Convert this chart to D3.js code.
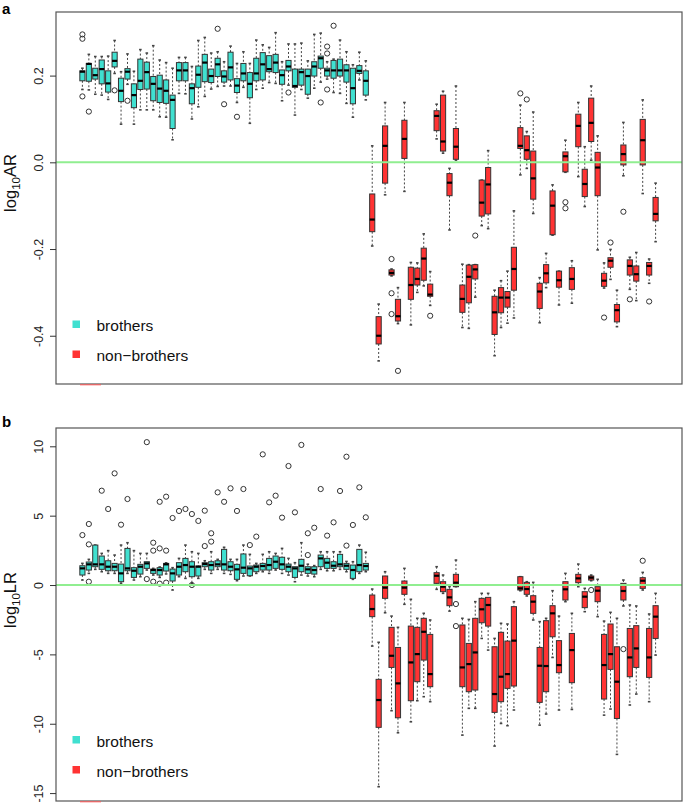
<!DOCTYPE html>
<html><head><meta charset="utf-8">
<script src="https://cdn.jsdelivr.net/npm/d3@7"></script>
<style>
body{margin:0;background:#fff;}
svg{display:block;font-family:"Liberation Sans",Arial,Helvetica,sans-serif;}
</style>
</head><body>
<svg id="chart" width="685" height="805"></svg>
<script>
// ---------- DATA ----------
const groups = ["brothers", "non\u2212brothers"];
const groupColors = ["#40E0D0", "#FF3333"];
const nBrothers = 45;
const nTotal = 90;

// Panel a: log10 AR (boxes 1..45 brothers, 46..90 non-brothers)
const arHigh = [0.217,0.249,0.244,0.244,0.245,0.281,0.209,0.250,0.210,0.260,0.252,0.269,0.236,0.230,0.217,0.242,0.242,0.221,0.281,0.288,0.252,0.255,0.232,0.268,0.228,0.255,0.228,0.282,0.271,0.265,0.299,0.232,0.273,0.273,0.275,0.234,0.295,0.298,0.232,0.238,0.282,0.255,0.225,0.254,0.234,
  0.038,-0.327,0.138,-0.246,-0.289,0.138,-0.231,-0.232,-0.165,-0.252,0.134,0.164,-0.014,0.176,-0.235,-0.236,-0.236,-0.041,0.027,-0.295,-0.273,-0.251,-0.112,0.132,0.071,0.116,-0.266,-0.210,-0.052,-0.251,0.051,-0.227,0.138,0.036,0.176,0.061,-0.232,-0.201,-0.295,0.092,-0.219,-0.208,0.144,-0.223,-0.048];
const arQ3 = [0.211,0.228,0.217,0.236,0.211,0.254,0.194,0.216,0.181,0.238,0.231,0.198,0.201,0.190,0.155,0.230,0.230,0.181,0.222,0.249,0.215,0.240,0.211,0.254,0.193,0.228,0.207,0.240,0.253,0.246,0.249,0.213,0.235,0.215,0.215,0.215,0.232,0.245,0.217,0.235,0.238,0.225,0.217,0.223,0.211,
  -0.073,-0.356,0.084,-0.248,-0.316,0.097,-0.242,-0.244,-0.198,-0.281,0.119,0.155,-0.026,0.078,-0.283,-0.237,-0.236,-0.041,-0.012,-0.309,-0.289,-0.298,-0.196,0.080,0.061,0.026,-0.279,-0.236,-0.066,-0.251,0.024,-0.243,0.111,-0.016,0.148,0.023,-0.256,-0.220,-0.328,0.040,-0.225,-0.239,0.099,-0.231,-0.081];
const arMed = [0.209,0.227,0.201,0.215,0.182,0.234,0.165,0.209,0.155,0.188,0.208,0.181,0.170,0.165,0.144,0.212,0.212,0.171,0.202,0.230,0.199,0.226,0.198,0.219,0.177,0.205,0.181,0.205,0.226,0.215,0.230,0.201,0.221,0.176,0.208,0.199,0.221,0.240,0.212,0.212,0.212,0.212,0.171,0.211,0.188,
  -0.132,-0.400,0.038,-0.255,-0.355,0.054,-0.283,-0.269,-0.222,-0.305,0.107,0.048,-0.047,0.036,-0.315,-0.264,-0.247,-0.093,-0.051,-0.346,-0.312,-0.312,-0.246,0.038,0.028,-0.037,-0.298,-0.256,-0.100,-0.272,0.014,-0.269,0.084,-0.050,0.091,-0.012,-0.273,-0.227,-0.341,0.019,-0.239,-0.258,0.051,-0.239,-0.119];
const arQ1 = [0.188,0.187,0.192,0.181,0.162,0.220,0.140,0.192,0.126,0.168,0.169,0.142,0.138,0.136,0.078,0.188,0.188,0.135,0.173,0.186,0.184,0.198,0.185,0.190,0.161,0.188,0.149,0.188,0.190,0.209,0.207,0.180,0.211,0.173,0.178,0.157,0.199,0.217,0.199,0.194,0.199,0.185,0.135,0.205,0.155,
  -0.160,-0.419,-0.048,-0.260,-0.366,0.009,-0.316,-0.283,-0.272,-0.309,0.073,0.026,-0.077,0.007,-0.346,-0.324,-0.269,-0.124,-0.119,-0.397,-0.347,-0.334,-0.295,0.032,0.007,-0.085,-0.337,-0.278,-0.167,-0.288,-0.022,-0.293,0.036,-0.079,0.048,-0.077,-0.286,-0.242,-0.368,-0.006,-0.260,-0.274,-0.006,-0.260,-0.135];
const arLow = [0.168,0.167,0.157,0.155,0.145,0.205,0.088,0.180,0.088,0.121,0.121,0.121,0.105,0.104,0.052,0.159,0.158,0.100,0.128,0.152,0.169,0.175,0.176,0.176,0.138,0.173,0.090,0.168,0.171,0.184,0.182,0.142,0.178,0.109,0.168,0.148,0.171,0.185,0.192,0.161,0.159,0.136,0.104,0.190,0.144,
  -0.193,-0.458,-0.075,-0.262,-0.372,-0.067,-0.375,-0.300,-0.285,-0.330,0.054,0.021,-0.156,0.005,-0.381,-0.383,-0.311,-0.146,-0.153,-0.446,-0.381,-0.371,-0.359,-0.029,-0.014,-0.118,-0.370,-0.289,-0.168,-0.329,-0.023,-0.325,-0.033,-0.102,0.005,-0.202,-0.290,-0.270,-0.379,-0.031,-0.293,-0.319,-0.072,-0.279,-0.183];
// outliers: [box number, value]
const arOutliers = [[1,0.295],[1,0.285],[1,0.152],[2,0.117],[6,0.166],[8,0.142],[22,0.308],[23,0.134],[25,0.105],[33,0.161],[38,0.138],[39,0.267],[39,0.251],[39,0.168],[40,0.315],
  [49,-0.223],[49,-0.302],[49,-0.350],[50,-0.481],[55,-0.354],[62,-0.169],[69,0.159],[70,0.145],[76,-0.092],[76,-0.106],[82,-0.358],[83,-0.185],[85,-0.114],[86,-0.316],[89,-0.321]];
const arTicks = [0.2, 0.0, -0.2, -0.4];
const arTickLabels = ["0.2", "0.0", "-0.2", "-0.4"];

// Panel b: log10 LR
const lrHigh = [1.56,1.85,2.88,2.28,2.48,2.16,2.88,3.05,2.48,2.28,2.28,1.20,1.30,1.60,1.25,1.92,2.88,2.40,2.28,1.75,2.40,1.85,2.72,1.85,1.85,2.88,2.21,1.56,2.21,2.40,2.28,2.64,1.92,1.61,3.05,1.50,1.40,2.40,2.40,2.40,2.40,1.70,1.68,2.88,2.36,
  -0.29,-4.13,0.96,-2.24,-3.05,1.20,-1.03,-2.40,-2.04,-2.52,1.32,0.72,-0.12,1.80,-2.40,-2.48,-1.20,-0.60,-0.60,-3.85,-2.76,-2.81,-1.20,0.60,0.24,0.19,-2.64,-2.40,-0.41,-2.24,0.84,-2.04,1.51,-0.24,0.72,0.41,-2.60,-1.97,-2.40,0.36,-1.44,-1.51,0.91,-2.09,-0.60];
const lrQ3 = [1.39,1.66,2.88,2.09,1.75,1.56,1.51,2.64,1.25,1.49,1.68,1.15,1.25,1.56,1.15,1.61,1.92,1.68,1.37,1.61,1.68,1.75,2.57,1.68,1.49,2.24,1.37,1.44,1.56,1.92,2.09,2.00,1.51,1.32,1.85,1.32,1.32,2.16,1.92,1.68,2.21,1.56,1.44,2.57,1.56,
  -0.72,-6.80,0.65,-3.05,-4.50,0.29,-2.96,-3.05,-2.40,-3.56,0.89,0.24,-0.31,0.77,-2.88,-4.21,-2.40,-0.96,-0.89,-4.45,-3.41,-4.04,-1.56,0.60,0.19,-0.77,-4.50,-2.57,-1.49,-4.01,0.24,-3.49,0.77,-0.48,0.65,-0.12,-3.56,-2.81,-4.45,0.12,-3.13,-2.93,0.53,-3.13,-1.49];
const lrMed = [1.20,1.49,1.49,1.49,1.32,1.32,0.84,1.20,1.03,1.32,1.56,1.08,1.08,1.49,0.84,1.32,1.44,1.32,1.32,1.51,1.44,1.49,1.49,1.32,1.13,1.25,1.20,1.32,1.37,1.44,1.68,1.49,1.32,1.20,1.39,1.13,1.08,1.92,1.61,1.39,1.49,1.39,1.08,1.44,1.37,
  -1.73,-8.29,-0.19,-5.10,-7.09,-0.19,-5.58,-4.98,-3.37,-6.42,0.67,-0.12,-0.89,0.17,-5.94,-5.70,-4.86,-1.75,-1.44,-7.86,-6.61,-6.42,-4.01,-0.24,-0.29,-1.20,-5.82,-5.84,-2.04,-5.77,-0.31,-4.69,0.48,-0.84,0.53,-0.41,-5.77,-4.98,-6.97,-0.43,-5.22,-4.57,0.31,-5.22,-2.28];
const lrQ1 = [0.72,1.08,1.32,1.13,1.03,1.03,0.24,1.03,0.55,0.79,1.20,0.84,0.72,1.01,0.29,0.72,0.96,0.60,0.65,1.32,1.08,1.32,1.08,1.03,0.41,0.84,0.67,0.96,1.08,1.08,1.20,1.13,0.96,0.55,0.96,0.84,0.79,1.32,1.20,1.20,1.32,1.13,0.48,0.96,1.08,
  -2.28,-10.26,-0.96,-5.94,-9.57,-0.67,-8.34,-6.97,-5.41,-7.33,0.12,-0.48,-1.49,-0.12,-7.33,-7.69,-7.57,-2.72,-2.96,-9.18,-8.41,-7.45,-7.28,-0.36,-0.67,-2.04,-8.46,-7.69,-3.73,-6.32,-1.08,-7.04,0.17,-1.63,0.36,-1.20,-8.22,-6.08,-9.62,-1.08,-6.61,-5.94,-0.24,-6.66,-3.85];
const lrLow = [0.36,0.84,1.13,0.96,0.84,0.84,0.12,0.84,0.36,0.60,1.08,0.72,0.55,0.80,-0.36,0.60,0.48,0.10,0.48,1.13,0.84,1.13,0.84,0.77,0.31,0.65,0.65,0.84,0.96,0.84,1.08,0.84,0.72,0.24,0.72,0.65,0.60,1.13,1.03,1.03,1.13,0.96,0.41,0.84,0.96,
  -4.40,-14.54,-2.00,-9.06,-10.65,-1.39,-9.86,-8.34,-8.05,-8.41,-0.31,-0.60,-1.88,-0.12,-10.82,-8.89,-8.89,-3.85,-4.69,-11.61,-9.98,-10.14,-9.01,-0.41,-0.79,-2.52,-10.10,-9.30,-5.22,-9.01,-1.20,-8.97,-0.12,-1.92,0.31,-2.28,-9.38,-8.94,-12.21,-1.51,-8.65,-7.86,-0.36,-8.41,-5.05];
const lrOutliers = [[1,3.6],[2,4.4],[2,2.93],[2,0.24],[4,6.8],[5,5.48],[6,8.05],[7,4.35],[8,6.2],[11,10.3],[11,0.43],[12,3.05],[12,2.48],[12,0.24],[13,6.0],[13,2.64],[13,0.1],[14,6.37],[14,2.48],[14,0.17],[15,4.83],[16,5.34],[17,5.48],[18,5.12],[18,0.0],[19,4.62],[20,5.36],[20,2.81],[21,3.73],[21,3.13],[22,6.68],[23,6.0],[24,6.97],[25,5.34],[26,6.92],[27,2.88],[28,3.49],[29,9.42],[30,5.96],[31,6.44],[32,4.86],[33,8.58],[34,5.24],[35,10.1],[36,3.73],[36,2.16],[37,4.13],[38,6.92],[39,3.56],[40,4.52],[41,6.78],[42,9.25],[42,2.84],[43,4.33],[44,7.04],[45,4.88],
  [59,-1.37],[59,-2.96],[80,-0.36],[85,-4.62],[88,1.75]];
const lrTicks = [10, 5, 0, -5, -10, -15];
const lrTickLabels = ["10", "5", "0", "-5", "-10", "-15"];

// ---------- DRAW ----------
const svg = d3.select("#chart");
const left = 56, right = 682;
const x = d3.scaleLinear().domain([0.5 - 0.04 * nTotal, nTotal + 0.5 + 0.04 * nTotal]).range([left, right]);
const halfW = (x(1.4) - x(1)); // box half width
const capW = halfW * 0.5;

function drawPanel(cfg) {
  const y = d3.scaleLinear().domain(cfg.domain).range([cfg.bottom, cfg.top]);
  const g = svg.append("g");
  const boxes = d3.range(nTotal).map(i => ({
    k: i + 1, hi: cfg.hi[i], q3: cfg.q3[i], med: cfg.med[i], q1: cfg.q1[i], lo: cfg.lo[i],
    color: i < nBrothers ? groupColors[0] : groupColors[1]
  }));

  // whiskers (dashed)
  const wg = g.append("g").attr("stroke", "#444").attr("stroke-width", 1);
  boxes.forEach(b => {
    const cx = x(b.k);
    wg.append("line").attr("x1", cx).attr("x2", cx).attr("y1", y(b.hi)).attr("y2", y(b.q3)).attr("stroke-dasharray", "2,2");
    wg.append("line").attr("x1", cx).attr("x2", cx).attr("y1", y(b.q1)).attr("y2", y(b.lo)).attr("stroke-dasharray", "2,2");
    wg.append("line").attr("x1", cx - capW).attr("x2", cx + capW).attr("y1", y(b.hi)).attr("y2", y(b.hi)).attr("stroke-width", 1.6);
    wg.append("line").attr("x1", cx - capW).attr("x2", cx + capW).attr("y1", y(b.lo)).attr("y2", y(b.lo)).attr("stroke-width", 1.6);
  });

  // boxes
  g.append("g").selectAll("rect").data(boxes).join("rect")
    .attr("x", b => x(b.k) - halfW)
    .attr("width", 2 * halfW)
    .attr("y", b => y(b.q3))
    .attr("height", b => Math.max(1, y(b.q1) - y(b.q3)))
    .attr("fill", b => b.color)
    .attr("stroke", "#333")
    .attr("stroke-width", 1);

  // medians
  g.append("g").selectAll("line").data(boxes).join("line")
    .attr("x1", b => x(b.k) - halfW).attr("x2", b => x(b.k) + halfW)
    .attr("y1", b => y(b.med)).attr("y2", b => y(b.med))
    .attr("stroke", "#000").attr("stroke-width", 2.2);

  // outliers
  g.append("g").selectAll("circle").data(cfg.outliers).join("circle")
    .attr("cx", d => x(d[0])).attr("cy", d => y(d[1])).attr("r", 2.6)
    .attr("fill", "none").attr("stroke", "#333").attr("stroke-width", 1);

  // zero line
  g.append("line").attr("x1", left).attr("x2", right).attr("y1", y(0)).attr("y2", y(0))
    .attr("stroke", "#90EE90").attr("stroke-width", 2);

  // frame
  g.append("rect").attr("x", left).attr("y", cfg.top).attr("width", right - left).attr("height", cfg.bottom - cfg.top)
    .attr("fill", "none").attr("stroke", "#555").attr("stroke-width", 1.2);

  // small red mark at bottom
  g.append("line").attr("x1", 80).attr("x2", 101).attr("y1", cfg.bottom + 0.8).attr("y2", cfg.bottom + 0.8)
    .attr("stroke", "#FF5555").attr("stroke-width", 1);

  // y axis
  const axis = d3.axisLeft(y).tickValues(cfg.ticks).tickSize(6).tickFormat((d, i) => cfg.tickLabels[i]);
  const ag = g.append("g").attr("transform", `translate(${left},0)`).call(axis);
  ag.select(".domain").remove();
  ag.selectAll(".tick line").attr("stroke", "#333");
  ag.selectAll(".tick text")
    .attr("x", null).attr("dy", null)
    .attr("transform", "translate(-13,0) rotate(-90)")
    .attr("text-anchor", "middle")
    .attr("font-size", 12.5).attr("fill", "#222")
    .attr("font-family", '"Liberation Sans",Arial,sans-serif');

  // y label
  const lab = g.append("text")
    .attr("transform", `translate(16,${cfg.labelY}) rotate(-90)`)
    .attr("text-anchor", "middle").attr("font-size", 16.5).attr("fill", "#111");
  lab.append("tspan").text("log");
  lab.append("tspan").attr("font-size", 11.5).attr("dy", 4).text("10");
  lab.append("tspan").attr("dy", -4).text(cfg.labelSuffix);

  // panel letter
  g.append("text").attr("x", 2).attr("y", cfg.letterY).attr("font-weight", "bold").attr("font-size", 15).text(cfg.letter);

  // legend
  const lg = g.append("g");
  groups.forEach((name, i) => {
    const ly = cfg.legendY + i * 30;
    lg.append("rect").attr("x", 72.5).attr("y", ly - 10.5).attr("width", 7.5).attr("height", 7.5).attr("fill", groupColors[i]);
    lg.append("text").attr("x", 96.5).attr("y", ly).attr("font-size", 15.5).attr("fill", "#111").text(name);
  });
}

drawPanel({
  top: 12, bottom: 384, domain: [-0.5113, 0.3467],
  hi: arHigh, q3: arQ3, med: arMed, q1: arQ1, lo: arLow, outliers: arOutliers,
  ticks: arTicks, tickLabels: arTickLabels,
  labelY: 183, labelSuffix: "AR", letter: "a", letterY: 14, legendY: 331
});
drawPanel({
  top: 428, bottom: 801, domain: [-15.57, 11.32],
  hi: lrHigh, q3: lrQ3, med: lrMed, q1: lrQ1, lo: lrLow, outliers: lrOutliers,
  ticks: lrTicks, tickLabels: lrTickLabels,
  labelY: 600, labelSuffix: "LR", letter: "b", letterY: 427, legendY: 746.5
});
</script>
</body></html>
